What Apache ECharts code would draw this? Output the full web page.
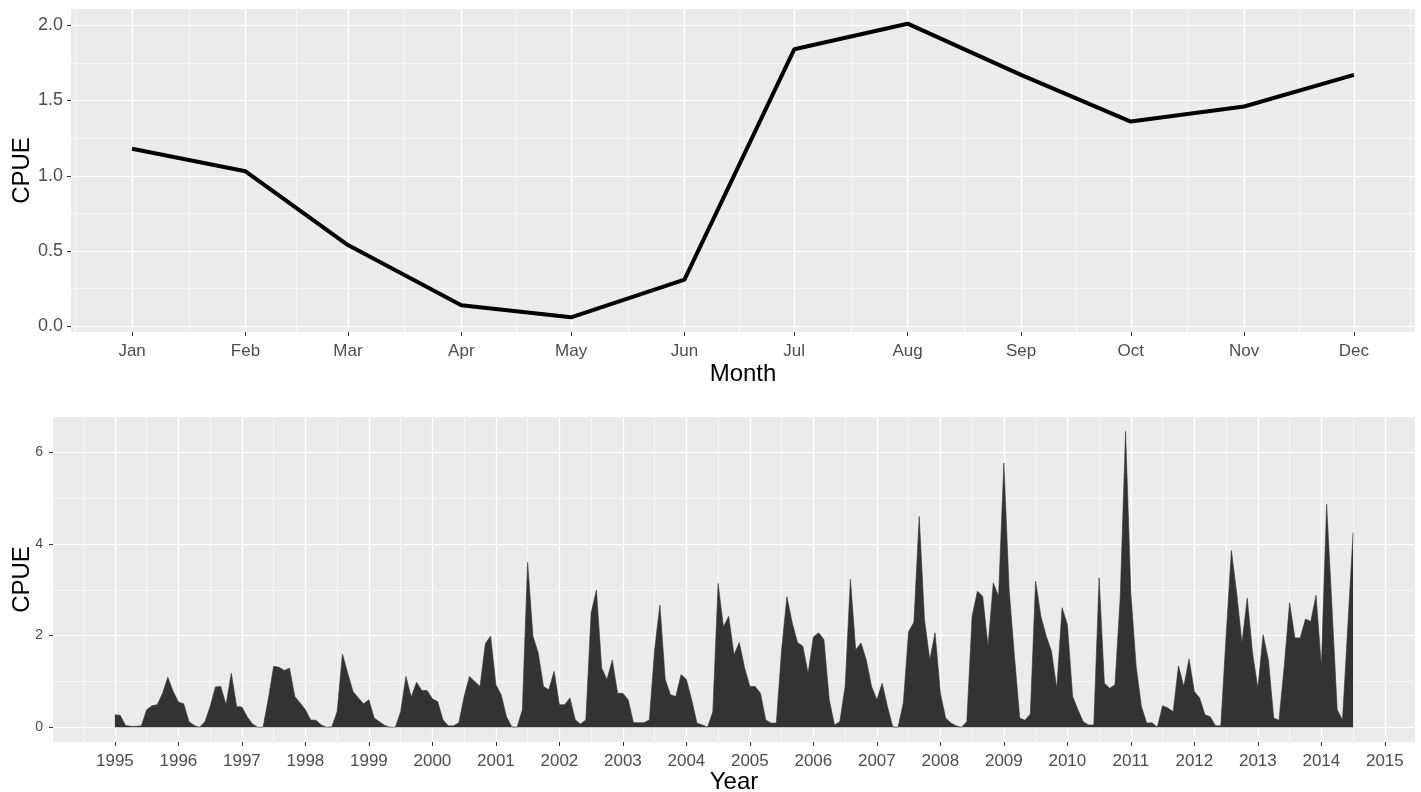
<!DOCTYPE html>
<html><head><meta charset="utf-8">
<script src="https://cdn.jsdelivr.net/npm/echarts@6/dist/echarts.min.js"></script>
<style>html,body{margin:0;padding:0;background:#fff}#c{width:1421px;height:792px}</style>
</head><body><div id="c"></div>
<script>
// ---- Top panel: mean CPUE by month ----
const monthNames = ['Jan','Feb','Mar','Apr','May','Jun','Jul','Aug','Sep','Oct','Nov','Dec'];
const monthStartDay = [0,31,59,90,120,151,181,212,243,273,304,334];
const monthlyCpue = [1.18,1.03,0.54,0.14,0.06,0.31,1.84,2.01,1.67,1.36,1.46,1.67];
const monthMinorDay = [-15.5,15.5,45,74.5,105,135.5,166,196.5,227.5,258,288.5,319,349.5];
const topYTicks = [0,0.5,1,1.5,2];
const topYMinor = [0.25,0.75,1.25,1.75];

// ---- Bottom panel: monthly CPUE, Jan 1995 .. Jul 2014 ----
const startYear = 1995;
const cpueByMonth = [
  0.27,0.26,0.04,0.02,0.02,0.03,0.38,0.47,0.49,0.74,1.09,0.78, // 1995
  0.55,0.51,0.12,0.04,0.00,0.12,0.45,0.88,0.89,0.49,1.18,0.45, // 1996
  0.44,0.23,0.07,0.00,0.00,0.62,1.33,1.31,1.24,1.29,0.67,0.53, // 1997
  0.38,0.16,0.15,0.05,0.00,0.01,0.34,1.60,1.18,0.78,0.64,0.51, // 1998
  0.60,0.20,0.12,0.04,0.00,0.00,0.34,1.11,0.66,0.98,0.80,0.80, // 1999
  0.62,0.56,0.16,0.03,0.03,0.10,0.67,1.11,1.00,0.89,1.82,1.99, // 2000
  0.93,0.71,0.23,0.01,0.00,0.38,3.60,1.99,1.62,0.89,0.82,1.22, // 2001
  0.49,0.49,0.64,0.16,0.07,0.16,2.50,2.99,1.29,1.04,1.47,0.74, // 2002
  0.74,0.60,0.10,0.10,0.10,0.16,1.69,2.67,1.04,0.71,0.67,1.15, // 2003
  1.04,0.60,0.09,0.05,0.00,0.34,3.14,2.19,2.42,1.58,1.85,1.30, // 2004
  0.89,0.89,0.74,0.16,0.09,0.09,1.69,2.85,2.28,1.85,1.77,1.18, // 2005
  1.97,2.06,1.91,0.60,0.05,0.12,0.89,3.23,1.69,1.84,1.47,0.89, // 2006
  0.60,0.96,0.45,0.01,0.00,0.53,2.09,2.29,4.60,2.35,1.47,2.06, // 2007
  0.74,0.20,0.09,0.03,0.00,0.12,2.42,2.97,2.86,1.77,3.15,2.86, // 2008
  5.77,3.00,1.55,0.20,0.15,0.29,3.19,2.42,1.99,1.66,0.85,2.61, // 2009
  2.25,0.67,0.38,0.12,0.05,0.05,3.26,0.96,0.85,0.93,2.86,6.46, // 2010
  2.93,1.33,0.45,0.09,0.10,0.00,0.47,0.42,0.34,1.34,0.89,1.49, // 2011
  0.78,0.64,0.27,0.23,0.03,0.03,1.99,3.86,2.93,1.84,2.82,1.62, // 2012
  0.85,2.02,1.47,0.20,0.15,1.35,2.72,1.95,1.95,2.36,2.31,2.88, // 2013
  1.33,4.87,2.64,0.38,0.16,2.20,4.25                           // 2014
];
const yearTicks = [1995,1996,1997,1998,1999,2000,2001,2002,2003,2004,2005,2006,2007,2008,2009,2010,2011,2012,2013,2014,2015];
const yearMinor = [1994.5,1995.5,1996.5,1997.5,1998.5,1999.5,2000.5,2001.5,2002.5,2003.5,2004.5,2005.5,2006.5,2007.5,2008.5,2009.5,2010.5,2011.5,2012.5,2013.5,2014.5];
const botYTicks = [0,2,4,6];
const botYMinor = [1,3,5];

const FONT = '"Liberation Sans", Arial, sans-serif';
const topXMin = -16.7, topXMax = 334 + 16.7;
const botXMin = 1994.025, botXMax = 2015.475;

function minorAxis(gridIndex, min, max, vals, pos) {
  return {
    gridIndex, type: 'value', min, max, position: pos,
    axisLine: {show: false, onZero: false},
    axisTick: {show: false, customValues: vals},
    axisLabel: {show: false, customValues: vals},
    splitLine: {show: true, lineStyle: {color: '#ffffff', width: 0.6}}
  };
}
function majorTick(vals) {
  return {show: true, length: 4, lineStyle: {color: '#333333', width: 1}, customValues: vals};
}

const chart = echarts.init(document.getElementById('c'), null, {renderer: 'canvas'});
chart.setOption({
  animation: false,
  textStyle: {fontFamily: FONT},
  grid: [
    {left: 71, right: 6, top: 9, height: 323, show: true, backgroundColor: '#EBEBEB', borderWidth: 0, containLabel: false, outerBoundsMode: 'none'},
    {left: 53, right: 6, top: 417, height: 325, show: true, backgroundColor: '#EBEBEB', borderWidth: 0, containLabel: false, outerBoundsMode: 'none'}
  ],
  xAxis: [
    {
      gridIndex: 0, type: 'value', min: topXMin, max: topXMax, position: 'bottom',
      axisLine: {show: false, onZero: false},
      axisTick: majorTick(monthStartDay),
      axisLabel: {customValues: monthStartDay, formatter: v => monthNames[monthStartDay.indexOf(v)],
                  color: '#4D4D4D', fontSize: 17, margin: 11, fontFamily: FONT},
      splitLine: {show: true, lineStyle: {color: '#ffffff', width: 1.2}},
      name: 'Month', nameLocation: 'middle', nameGap: 30, nameMoveOverlap: false,
      nameTextStyle: {fontSize: 24, color: '#000000', fontFamily: FONT}
    },
    minorAxis(0, topXMin, topXMax, monthMinorDay, 'top'),
    {
      gridIndex: 1, type: 'value', min: botXMin, max: botXMax, position: 'bottom',
      axisLine: {show: false, onZero: false},
      axisTick: majorTick(yearTicks),
      axisLabel: {customValues: yearTicks, formatter: v => String(Math.round(v)),
                  color: '#4D4D4D', fontSize: 17, margin: 11, fontFamily: FONT},
      splitLine: {show: true, lineStyle: {color: '#ffffff', width: 1.2}},
      name: 'Year', nameLocation: 'middle', nameGap: 28, nameMoveOverlap: false,
      nameTextStyle: {fontSize: 24, color: '#000000', fontFamily: FONT}
    },
    minorAxis(1, botXMin, botXMax, yearMinor, 'top')
  ],
  yAxis: [
    {
      gridIndex: 0, type: 'value', min: -0.0375, max: 2.1075, position: 'left',
      axisLine: {show: false, onZero: false},
      axisTick: majorTick(topYTicks),
      axisLabel: {customValues: topYTicks, formatter: v => v.toFixed(1),
                  color: '#4D4D4D', fontSize: 18, margin: 8, fontFamily: FONT},
      splitLine: {show: true, lineStyle: {color: '#ffffff', width: 1.2}},
      name: 'CPUE', nameLocation: 'middle', nameGap: 37, nameRotate: 90, nameMoveOverlap: false,
      nameTextStyle: {fontSize: 24, color: '#000000', fontFamily: FONT}
    },
    minorAxis(0, -0.0375, 2.1075, topYMinor, 'right'),
    {
      gridIndex: 1, type: 'value', min: -0.3225, max: 6.7725, position: 'left',
      axisLine: {show: false, onZero: false},
      axisTick: majorTick(botYTicks),
      axisLabel: {customValues: botYTicks, formatter: v => String(Math.round(v)),
                  color: '#4D4D4D', fontSize: 14, margin: 10, fontFamily: FONT},
      splitLine: {show: true, lineStyle: {color: '#ffffff', width: 1.2}},
      name: 'CPUE', nameLocation: 'middle', nameGap: 19, nameRotate: 90, nameMoveOverlap: false,
      nameTextStyle: {fontSize: 24, color: '#000000', fontFamily: FONT}
    },
    minorAxis(1, -0.3225, 6.7725, botYMinor, 'right')
  ],
  series: [
    {
      type: 'line', xAxisIndex: 0, yAxisIndex: 0,
      data: monthStartDay.map((d, i) => [d, monthlyCpue[i]]),
      showSymbol: false, lineStyle: {color: '#000000', width: 4}, z: 5
    },
    {
      type: 'line', xAxisIndex: 2, yAxisIndex: 2,
      data: cpueByMonth.map((v, i) => [startYear + i / 12, v]),
      showSymbol: false,
      lineStyle: {color: '#333333', width: 0.6},
      areaStyle: {color: '#333333', opacity: 1},
      z: 5
    }
  ]
});
</script></body></html>
